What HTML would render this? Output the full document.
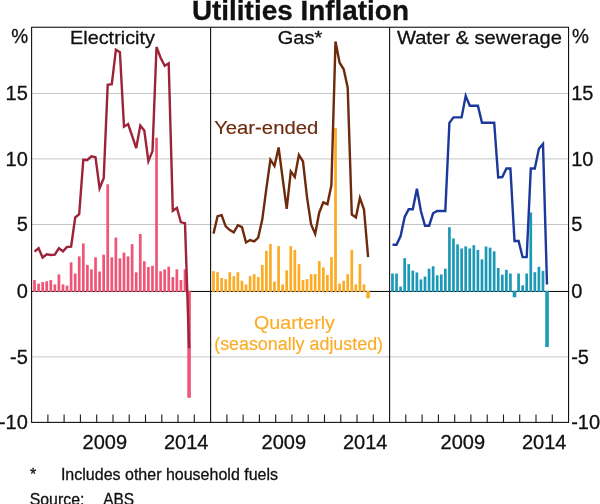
<!DOCTYPE html>
<html><head><meta charset="utf-8"><title>Utilities Inflation</title>
<style>html,body{margin:0;padding:0;background:#fff}svg{display:block}text{font-family:"Liberation Sans",Arial,sans-serif;fill:#111;stroke:#111;stroke-width:.3px}</style></head><body>
<svg width="600" height="504" viewBox="0 0 600 504">
<rect width="600" height="504" fill="#fff"/>
<line x1="31.6" x2="568.55" y1="93.5" y2="93.5" stroke="#c2c5c8" stroke-width="1"/>
<line x1="31.6" x2="568.55" y1="158.9" y2="158.9" stroke="#c2c5c8" stroke-width="1"/>
<line x1="31.6" x2="568.55" y1="224.5" y2="224.5" stroke="#c2c5c8" stroke-width="1"/>
<line x1="31.6" x2="568.55" y1="356.9" y2="356.9" stroke="#c2c5c8" stroke-width="1"/>
<line x1="31.6" x2="568.55" y1="291.45" y2="291.45" stroke="#000" stroke-width="1"/>
<g fill="#ef5577"><rect x="33.15" y="280.10" width="2.7" height="11.75"/><rect x="37.22" y="283.66" width="2.7" height="8.19"/><rect x="41.29" y="282.07" width="2.7" height="9.78"/><rect x="45.35" y="281.28" width="2.7" height="10.57"/><rect x="49.42" y="280.10" width="2.7" height="11.75"/><rect x="53.49" y="284.45" width="2.7" height="7.40"/><rect x="57.56" y="274.43" width="2.7" height="17.42"/><rect x="61.62" y="284.45" width="2.7" height="7.40"/><rect x="65.69" y="285.63" width="2.7" height="6.22"/><rect x="69.76" y="262.30" width="2.7" height="29.55"/><rect x="73.83" y="273.51" width="2.7" height="18.34"/><rect x="77.90" y="256.37" width="2.7" height="35.48"/><rect x="81.96" y="243.46" width="2.7" height="48.39"/><rect x="86.03" y="264.94" width="2.7" height="26.91"/><rect x="90.10" y="269.42" width="2.7" height="22.43"/><rect x="94.17" y="257.30" width="2.7" height="34.55"/><rect x="98.23" y="271.53" width="2.7" height="20.32"/><rect x="102.30" y="254.66" width="2.7" height="37.19"/><rect x="106.37" y="184.28" width="2.7" height="107.57"/><rect x="110.44" y="257.30" width="2.7" height="34.55"/><rect x="114.51" y="237.53" width="2.7" height="54.32"/><rect x="118.57" y="258.35" width="2.7" height="33.50"/><rect x="122.64" y="252.55" width="2.7" height="39.30"/><rect x="126.71" y="256.37" width="2.7" height="35.48"/><rect x="130.78" y="244.12" width="2.7" height="47.73"/><rect x="134.85" y="272.32" width="2.7" height="19.53"/><rect x="138.91" y="233.97" width="2.7" height="57.88"/><rect x="142.98" y="261.25" width="2.7" height="30.60"/><rect x="147.05" y="267.05" width="2.7" height="24.80"/><rect x="151.12" y="265.73" width="2.7" height="26.12"/><rect x="155.18" y="137.75" width="2.7" height="154.10"/><rect x="159.25" y="271.27" width="2.7" height="20.58"/><rect x="163.32" y="269.42" width="2.7" height="22.43"/><rect x="167.39" y="266.65" width="2.7" height="25.20"/><rect x="171.46" y="277.07" width="2.7" height="14.78"/><rect x="175.52" y="269.42" width="2.7" height="22.43"/><rect x="179.59" y="279.97" width="2.7" height="11.88"/><rect x="183.66" y="269.42" width="2.7" height="22.43"/><rect x="187.28" y="290.75" width="3.6" height="107.04"/></g>
<g fill="#fbab24"><rect x="212.13" y="271.13" width="2.7" height="20.72"/><rect x="216.20" y="272.19" width="2.7" height="19.66"/><rect x="220.27" y="277.99" width="2.7" height="13.86"/><rect x="224.34" y="279.17" width="2.7" height="12.68"/><rect x="228.40" y="272.19" width="2.7" height="19.66"/><rect x="232.47" y="276.14" width="2.7" height="15.71"/><rect x="236.54" y="272.19" width="2.7" height="19.66"/><rect x="240.61" y="280.76" width="2.7" height="11.09"/><rect x="244.68" y="284.45" width="2.7" height="7.40"/><rect x="248.74" y="276.14" width="2.7" height="15.71"/><rect x="252.81" y="274.17" width="2.7" height="17.68"/><rect x="256.88" y="276.93" width="2.7" height="14.92"/><rect x="260.95" y="264.94" width="2.7" height="26.91"/><rect x="265.01" y="250.84" width="2.7" height="41.01"/><rect x="269.08" y="244.12" width="2.7" height="47.73"/><rect x="273.15" y="281.68" width="2.7" height="10.17"/><rect x="277.22" y="246.09" width="2.7" height="45.76"/><rect x="281.29" y="284.45" width="2.7" height="7.40"/><rect x="285.35" y="270.34" width="2.7" height="21.51"/><rect x="289.42" y="246.09" width="2.7" height="45.76"/><rect x="293.49" y="249.91" width="2.7" height="41.94"/><rect x="297.56" y="264.15" width="2.7" height="27.70"/><rect x="301.62" y="279.97" width="2.7" height="11.88"/><rect x="305.69" y="279.17" width="2.7" height="12.68"/><rect x="309.76" y="274.17" width="2.7" height="17.68"/><rect x="313.83" y="274.17" width="2.7" height="17.68"/><rect x="317.90" y="261.12" width="2.7" height="30.73"/><rect x="321.96" y="267.44" width="2.7" height="24.41"/><rect x="326.03" y="274.96" width="2.7" height="16.89"/><rect x="330.10" y="257.16" width="2.7" height="34.69"/><rect x="334.17" y="127.87" width="2.7" height="163.98"/><rect x="338.24" y="283.66" width="2.7" height="8.19"/><rect x="342.30" y="280.76" width="2.7" height="11.09"/><rect x="346.37" y="274.17" width="2.7" height="17.68"/><rect x="350.44" y="249.91" width="2.7" height="41.94"/><rect x="354.51" y="284.45" width="2.7" height="7.40"/><rect x="358.57" y="264.15" width="2.7" height="27.70"/><rect x="362.64" y="284.45" width="2.7" height="7.40"/><rect x="366.26" y="290.75" width="3.6" height="7.54"/></g>
<g fill="#1b99b6"><rect x="391.12" y="273.51" width="2.7" height="18.34"/><rect x="395.18" y="273.51" width="2.7" height="18.34"/><rect x="399.25" y="286.56" width="2.7" height="5.29"/><rect x="403.32" y="258.22" width="2.7" height="33.63"/><rect x="407.39" y="264.15" width="2.7" height="27.70"/><rect x="411.46" y="270.61" width="2.7" height="21.24"/><rect x="415.52" y="272.45" width="2.7" height="19.40"/><rect x="419.59" y="279.44" width="2.7" height="12.41"/><rect x="423.66" y="276.54" width="2.7" height="15.31"/><rect x="427.73" y="268.63" width="2.7" height="23.22"/><rect x="431.79" y="266.26" width="2.7" height="25.59"/><rect x="435.86" y="275.35" width="2.7" height="16.50"/><rect x="439.93" y="274.43" width="2.7" height="17.42"/><rect x="444.00" y="268.63" width="2.7" height="23.22"/><rect x="448.07" y="227.25" width="2.7" height="64.60"/><rect x="452.13" y="238.45" width="2.7" height="53.40"/><rect x="456.20" y="244.38" width="2.7" height="47.47"/><rect x="460.27" y="248.47" width="2.7" height="43.39"/><rect x="464.34" y="246.36" width="2.7" height="45.49"/><rect x="468.40" y="248.47" width="2.7" height="43.39"/><rect x="472.47" y="245.17" width="2.7" height="46.68"/><rect x="476.54" y="249.91" width="2.7" height="41.94"/><rect x="480.61" y="259.40" width="2.7" height="32.45"/><rect x="484.68" y="246.49" width="2.7" height="45.36"/><rect x="488.74" y="247.67" width="2.7" height="44.18"/><rect x="492.81" y="251.36" width="2.7" height="40.49"/><rect x="496.88" y="267.97" width="2.7" height="23.88"/><rect x="500.95" y="274.69" width="2.7" height="17.16"/><rect x="505.02" y="269.82" width="2.7" height="22.03"/><rect x="509.08" y="273.51" width="2.7" height="18.34"/><rect x="512.70" y="290.75" width="3.6" height="6.48"/><rect x="517.22" y="273.51" width="2.7" height="18.34"/><rect x="521.29" y="285.37" width="2.7" height="6.48"/><rect x="525.35" y="273.51" width="2.7" height="18.34"/><rect x="529.42" y="212.48" width="2.7" height="79.37"/><rect x="533.49" y="272.19" width="2.7" height="19.66"/><rect x="537.56" y="266.79" width="2.7" height="25.06"/><rect x="541.63" y="270.87" width="2.7" height="20.98"/><rect x="545.24" y="290.75" width="3.6" height="56.30"/></g>
<polyline points="34.5,251.7 38.6,248.3 42.6,257.5 46.7,254.2 50.8,255.0 54.8,254.7 58.9,248.3 63.0,251.3 67.0,247.0 71.1,246.7 75.2,217.5 79.2,214.2 83.3,159.7 87.4,160.0 91.4,156.3 95.5,157.2 99.6,188.3 103.7,178.3 107.7,84.7 111.8,84.2 115.9,49.7 119.9,52.2 124.0,126.7 128.1,124.0 132.1,135.8 136.2,148.1 140.3,125.5 144.3,130.5 148.4,161.2 152.5,151.1 156.5,47.0 160.6,57.7 164.7,65.8 168.7,63.3 172.8,210.7 176.9,207.9 180.9,222.3 185.0,223.2 189.1,348.3" fill="none" stroke="#9c2338" stroke-width="2.4" stroke-linejoin="miter" stroke-linecap="butt"/>
<polyline points="213.5,233.6 217.6,216.2 221.6,215.2 225.7,226.4 229.8,230.1 233.8,232.4 237.9,225.2 242.0,227.2 246.0,242.5 250.1,240.0 254.2,241.4 258.2,237.6 262.3,219.3 266.4,188.3 270.4,159.7 274.5,165.9 278.6,147.4 282.6,178.0 286.7,208.9 290.8,171.4 294.8,177.0 298.9,154.9 303.0,161.5 307.0,197.1 311.1,224.5 315.2,234.0 319.2,212.7 323.3,202.4 327.4,204.2 331.4,185.3 335.5,41.6 339.6,62.7 343.7,69.3 347.7,87.7 351.8,214.5 355.9,217.4 359.9,197.9 364.0,209.5 368.1,257.1" fill="none" stroke="#6e2a0c" stroke-width="2.4" stroke-linejoin="miter" stroke-linecap="butt"/>
<polyline points="392.5,244.8 396.5,244.8 400.6,236.0 404.7,216.9 408.7,209.2 412.8,209.2 416.9,188.8 420.9,211.0 425.0,225.7 429.1,225.7 433.1,213.3 437.2,211.0 441.3,211.0 445.3,211.0 449.4,122.9 453.5,117.4 457.6,117.4 461.6,117.4 465.7,95.9 469.8,105.7 473.8,105.7 477.9,105.7 482.0,122.7 486.0,122.7 490.1,122.7 494.2,122.7 498.2,177.4 502.3,177.0 506.4,168.5 510.4,168.5 514.5,241.0 518.6,241.0 522.6,257.1 526.7,257.1 530.8,168.5 534.8,168.5 538.9,148.8 543.0,144.0 547.0,284.5" fill="none" stroke="#1b389a" stroke-width="2.4" stroke-linejoin="miter" stroke-linecap="butt"/>
<rect x="31.6" y="27.25" width="536.9499999999999" height="395.15" fill="none" stroke="#111" stroke-width="1.1"/>
<line x1="210.6" x2="210.6" y1="27.25" y2="422.4" stroke="#111" stroke-width="1.1"/>
<line x1="389.6" x2="389.6" y1="27.25" y2="422.4" stroke="#111" stroke-width="1.1"/>
<path d="M47.9 422.4V414.4M64.1 422.4V414.4M80.4 422.4V414.4M96.7 422.4V414.4M113.0 422.4V414.4M129.2 422.4V414.4M145.5 422.4V414.4M161.8 422.4V414.4M178.0 422.4V414.4M194.3 422.4V414.4M226.9 422.4V414.4M243.1 422.4V414.4M259.4 422.4V414.4M275.7 422.4V414.4M291.9 422.4V414.4M308.2 422.4V414.4M324.5 422.4V414.4M340.8 422.4V414.4M357.0 422.4V414.4M373.3 422.4V414.4M405.8 422.4V414.4M422.1 422.4V414.4M438.4 422.4V414.4M454.7 422.4V414.4M470.9 422.4V414.4M487.2 422.4V414.4M503.5 422.4V414.4M519.7 422.4V414.4M536.0 422.4V414.4M552.3 422.4V414.4" stroke="#1a1a1a" stroke-width="1.1" fill="none"/>
<text transform="translate(191.92,20.4) scale(1.0043,1)" font-size="27.8" text-anchor="start" font-weight="bold">Utilities Inflation</text>
<text transform="translate(70.06,44.3) scale(1.0445,1)" font-size="19" text-anchor="start">Electricity</text>
<text transform="translate(277.8,44.3) scale(1.0539,1)" font-size="19" text-anchor="start">Gas*</text>
<text transform="translate(396.9,44.3) scale(1.0604,1)" font-size="19" text-anchor="start">Water &amp; sewerage</text>
<text transform="translate(11.3,42.7) scale(0.97,1)" font-size="19.6" text-anchor="start">%</text>
<text transform="translate(571.9,42.7) scale(0.97,1)" font-size="19.6" text-anchor="start">%</text>
<text transform="translate(27.8,100.4) scale(1,1)" font-size="20" text-anchor="end">15</text>
<text transform="translate(571.2,100.4) scale(1,1)" font-size="20" text-anchor="start">15</text>
<text transform="translate(27.8,165.8) scale(1,1)" font-size="20" text-anchor="end">10</text>
<text transform="translate(571.2,165.8) scale(1,1)" font-size="20" text-anchor="start">10</text>
<text transform="translate(27.8,231.4) scale(1,1)" font-size="20" text-anchor="end">5</text>
<text transform="translate(571.2,231.4) scale(1,1)" font-size="20" text-anchor="start">5</text>
<text transform="translate(27.8,298.2) scale(1,1)" font-size="20" text-anchor="end">0</text>
<text transform="translate(571.2,298.2) scale(1,1)" font-size="20" text-anchor="start">0</text>
<text transform="translate(27.8,363.79999999999995) scale(1,1)" font-size="20" text-anchor="end">-5</text>
<text transform="translate(571.2,363.79999999999995) scale(1,1)" font-size="20" text-anchor="start">-5</text>
<text transform="translate(27.8,429.29999999999995) scale(1,1)" font-size="20" text-anchor="end">-10</text>
<text transform="translate(571.2,429.29999999999995) scale(1,1)" font-size="20" text-anchor="start">-10</text>
<text transform="translate(104.82045454545454,448.6) scale(1,1)" font-size="20" text-anchor="middle">2009</text>
<text transform="translate(186.17651515151513,448.6) scale(1,1)" font-size="20" text-anchor="middle">2014</text>
<text transform="translate(283.80378787878783,448.6) scale(1,1)" font-size="20" text-anchor="middle">2009</text>
<text transform="translate(365.15984848484845,448.6) scale(1,1)" font-size="20" text-anchor="middle">2014</text>
<text transform="translate(462.7871212121212,448.6) scale(1,1)" font-size="20" text-anchor="middle">2009</text>
<text transform="translate(544.1431818181818,448.6) scale(1,1)" font-size="20" text-anchor="middle">2014</text>
<text transform="translate(214.14,133.8) scale(1.0678,1)" font-size="19" text-anchor="start" style="fill:#6e2a0c;stroke:#6e2a0c;stroke-width:.15px">Year-ended</text>
<text transform="translate(254.06,329.2) scale(1.0364,1)" font-size="19" text-anchor="start" style="fill:#fbab24;stroke:#fbab24;stroke-width:.15px">Quarterly</text>
<text transform="translate(214.18,349.7) scale(0.9409,1)" font-size="19" text-anchor="start" style="fill:#fbab24;stroke:#fbab24;stroke-width:.15px">(seasonally adjusted)</text>
<text transform="translate(30,480) scale(0.97,1)" font-size="16.5" text-anchor="start">*</text>
<text transform="translate(60.92,480) scale(0.9706,1)" font-size="16.5" text-anchor="start">Includes other household fuels</text>
<text transform="translate(29.68,504.6) scale(0.9631,1)" font-size="16.5" text-anchor="start">Source:</text>
<text transform="translate(103.16,504.6) scale(0.9374,1)" font-size="16.5" text-anchor="start">ABS</text>
</svg></body></html>
